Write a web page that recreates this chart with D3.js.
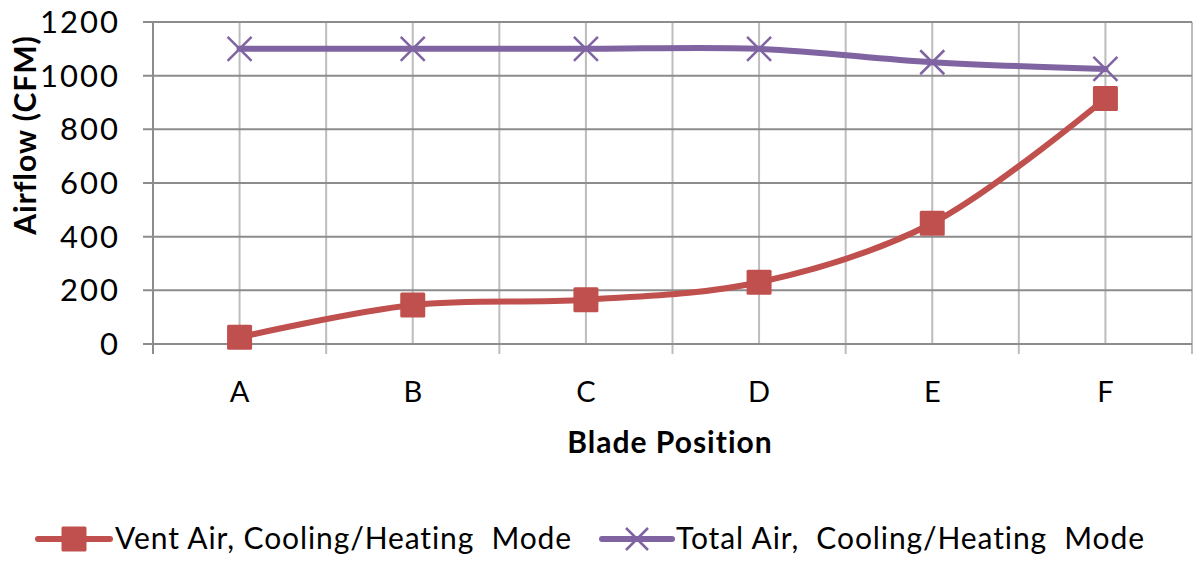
<!DOCTYPE html>
<html>
<head>
<meta charset="utf-8">
<script src="https://cdn.jsdelivr.net/npm/d3@7"></script>
<style>
  body { margin: 0; background: #fff; }
  text { font-family: Lato, "Open Sans", sans-serif; fill: #000; white-space: pre; }
</style>
</head>
<body>
<svg id="chart" width="1193" height="562"></svg>
<script>
// data
const positions = ["A", "B", "C", "D", "E", "F"];
const ventAir = [25, 145, 165, 230, 450, 915];
const totalAir = [1100, 1100, 1100, 1100, 1050, 1025];
const yTicks = [0, 200, 400, 600, 800, 1000, 1200];
const seriesNames = ["Vent Air, Cooling/Heating  Mode", "Total Air,  Cooling/Heating  Mode"];

const RED = "#c0504d", PURPLE = "#8064a2";
const svg = d3.select("#chart");

const x = d3.scaleBand().domain(positions).range([153, 1192]);
const y = d3.scaleLinear().domain([0, 1200]).range([344, 22]);

// grid - verticals at centers and band edges
const edges = positions.map(p => x(p)).concat([x.range()[1]]);
const g = svg.append("g");
g.selectAll(".vc").data(positions).enter().append("line")
    .attr("x1", d => x(d) + x.bandwidth() / 2).attr("x2", d => x(d) + x.bandwidth() / 2)
    .attr("y1", y(1200)).attr("y2", y(0))
    .attr("stroke", "#bdbdbd").attr("stroke-width", 2);
g.selectAll(".ve").data(edges.slice(1)).enter().append("line")
    .attr("x1", d => d).attr("x2", d => d)
    .attr("y1", y(1200)).attr("y2", y(0) + 10)
    .attr("stroke", "#bdbdbd").attr("stroke-width", 2);
g.selectAll(".h").data(yTicks).enter().append("line")
    .attr("x1", 143).attr("x2", 1192)
    .attr("y1", d => y(d)).attr("y2", d => y(d))
    .attr("stroke", "#8c8c8c").attr("stroke-width", 2);
// left axis line
g.append("line").attr("x1", 153).attr("x2", 153).attr("y1", y(1200)).attr("y2", y(0) + 10)
    .attr("stroke", "#8c8c8c").attr("stroke-width", 2);

// tick labels
svg.append("g").selectAll("text").data(yTicks).enter().append("text")
    .attr("x", 120).attr("y", d => y(d) + 11)
    .attr("text-anchor", "end").style("font-size", "31px").style("letter-spacing", "2px")
    .text(d => d);
svg.append("g").selectAll("text").data(positions).enter().append("text")
    .attr("x", d => x(d) + x.bandwidth() / 2).attr("y", 402)
    .attr("text-anchor", "middle").style("font-size", "29px")
    .text(d => d);

// axis titles
svg.append("text").attr("x", 670).attr("y", 453).attr("text-anchor", "middle")
    .style("font-size", "30px").style("font-weight", "bold").style("letter-spacing", "1px")
    .text("Blade Position");
svg.append("text").attr("transform", "translate(36,135) rotate(-90)").attr("text-anchor", "middle")
    .style("font-size", "30px").style("font-weight", "bold").style("letter-spacing", "1px")
    .text("Airflow (CFM)");

// lines
const cx = (d, i) => x(positions[i]) + x.bandwidth() / 2;
const line = d3.line().x(cx).y(d => y(d)).curve(d3.curveCatmullRom.alpha(0.5));

svg.append("path").datum(totalAir).attr("d", line)
    .attr("fill", "none").attr("stroke", PURPLE).attr("stroke-width", 6).attr("stroke-linecap", "round");
svg.append("path").datum(ventAir).attr("d", line)
    .attr("fill", "none").attr("stroke", RED).attr("stroke-width", 6).attr("stroke-linecap", "round");

function cross(sel, size) {
  sel.append("path").attr("d", `M${-size},${-size}L${size},${size}M${-size},${size}L${size},${-size}`)
    .attr("stroke", PURPLE).attr("stroke-width", 2.5).attr("fill", "none");
}
function square(sel, size) {
  sel.append("rect").attr("x", -size).attr("y", -size).attr("width", size * 2).attr("height", size * 2)
    .attr("fill", RED).attr("rx", 1.5);
}

svg.append("g").selectAll("g").data(totalAir).enter().append("g")
    .attr("transform", (d, i) => `translate(${cx(d, i)},${y(d)})`)
    .each(function() { cross(d3.select(this), 12); });
svg.append("g").selectAll("g").data(ventAir).enter().append("g")
    .attr("transform", (d, i) => `translate(${cx(d, i)},${y(d)})`)
    .each(function() { square(d3.select(this), 12.5); });

// legend
const leg = svg.append("g");
const ly = 539;
leg.append("line").attr("x1", 38).attr("x2", 110).attr("y1", ly).attr("y2", ly)
    .attr("stroke", RED).attr("stroke-width", 6).attr("stroke-linecap", "round");
square(leg.append("g").attr("transform", `translate(74,${ly})`), 12.5);
leg.append("text").attr("x", 115).attr("y", ly + 10).style("font-size", "30px").style("letter-spacing", "0.9px")
    .text(seriesNames[0]);

leg.append("line").attr("x1", 602).attr("x2", 672).attr("y1", ly).attr("y2", ly)
    .attr("stroke", PURPLE).attr("stroke-width", 6).attr("stroke-linecap", "round");
cross(leg.append("g").attr("transform", `translate(637,${ly})`), 11);
leg.append("text").attr("x", 676).attr("y", ly + 10).style("font-size", "30px").style("letter-spacing", "0.9px")
    .text(seriesNames[1]);
</script>
</body>
</html>
